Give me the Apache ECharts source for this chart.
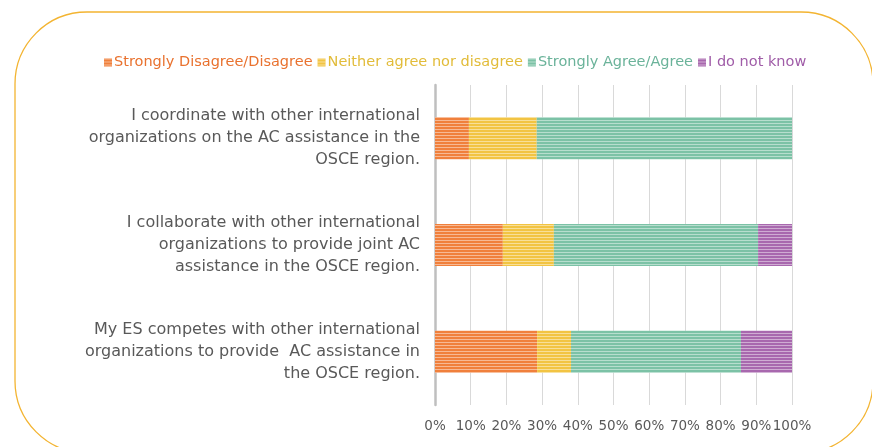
<!DOCTYPE html>
<html>
<head>
<meta charset="utf-8">
<script src="https://cdn.jsdelivr.net/npm/echarts@6/dist/echarts.min.js"></script>
<style>
  html, body { margin: 0; padding: 0; background: #fff; }
  #chart-container { width: 872px; height: 447px; }
</style>
</head>
<body>
<div id="chart-container"></div>
<script>
var dom = document.getElementById('chart-container');
var myChart = echarts.init(dom, null, { renderer: 'canvas' });

// statements, top to bottom
var categories = [
  'I coordinate with other international\norganizations on the AC assistance in the\nOSCE region.',
  'I collaborate with other international\norganizations to provide joint AC\nassistance in the OSCE region.',
  'My ES competes with other international\norganizations to provide  AC assistance in\nthe OSCE region.'
];
var seriesNames = ['Strongly Disagree/Disagree', 'Neither agree nor disagree', 'Strongly Agree/Agree', 'I do not know'];
// percentages per statement
var disagree = [9.5, 19.0, 28.6];
var neither = [19.0, 14.3, 9.5];
var agree = [71.5, 57.2, 47.6];
var dontKnow = [0, 9.5, 14.3];
var xTicks = [0, 10, 20, 30, 40, 50, 60, 70, 80, 90, 100];

var colors = ['#F0803C', '#F2C443', '#7CC2A6', '#A868AE'];
var textColors = ['#E9722F', '#E2BC3A', '#6BB39A', '#A05DA8'];
var allData = [disagree, neither, agree, dontKnow];

var font = '"DejaVu Sans", sans-serif';

var series = seriesNames.map(function (name, i) {
  return {
    name: name,
    type: 'bar',
    stack: 'total',
    barWidth: 42,
    data: allData[i].map(function (v) { return v === 0 ? '-' : v; }),
    itemStyle: {
      color: colors[i],
      decal: {
        symbol: 'rect',
        symbolSize: 1,
        dashArrayX: [1, 0],
        dashArrayY: [1, 2],
        rotation: 0,
        color: 'rgba(255,255,255,0.45)'
      }
    }
  };
});

var option = {
  backgroundColor: '#fff',
  animation: false,
  textStyle: { fontFamily: font },
  graphic: [{
    type: 'rect',
    shape: { x: 15, y: 12, width: 858, height: 441, r: 72 },
    style: { fill: 'none', stroke: '#F3B431', lineWidth: 1.3 },
    silent: true
  }],
  legend: {
    top: 50,
    left: 99,
    itemWidth: 8,
    itemHeight: 8,
    itemGap: 5,
    icon: 'rect',
    textStyle: { fontSize: 14.5, fontFamily: font, padding: [0, 0, 0, -3] },
    data: seriesNames.map(function (n, i) {
      return { name: n, textStyle: { color: textColors[i] } };
    })
  },
  grid: { left: 435, right: 80, top: 85, bottom: 42 },
  xAxis: {
    type: 'value',
    min: 0,
    max: 100,
    interval: 10,
    axisLine: { show: false },
    axisTick: { show: false },
    splitLine: { lineStyle: { color: '#D9D9D9', width: 1 } },
    axisLabel: {
      formatter: '{value}%',
      color: '#595959',
      fontSize: 13.5,
      margin: 14,
      fontFamily: font
    }
  },
  yAxis: {
    type: 'category',
    inverse: true,
    data: categories,
    axisLine: { show: true, lineStyle: { color: '#BFBFBF', width: 2.5 } },
    axisTick: { show: false },
    axisLabel: {
      color: '#595959',
      fontSize: 16,
      lineHeight: 22,
      margin: 15,
      align: 'right',
      fontFamily: font
    }
  },
  series: series
};

myChart.setOption(option);
window.addEventListener('resize', myChart.resize);
</script>
</body>
</html>
